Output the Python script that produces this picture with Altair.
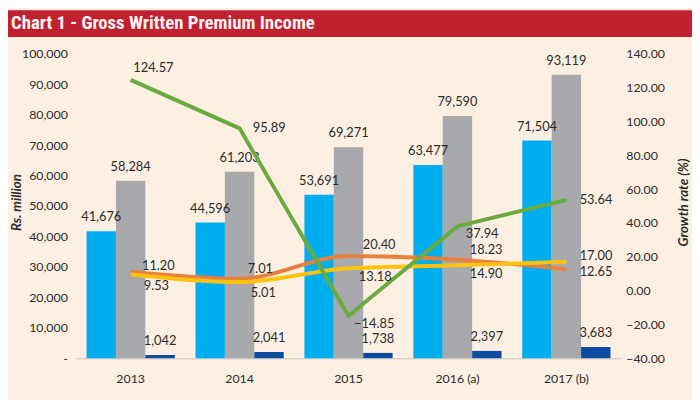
import altair as alt
import pandas as pd

# ---------------- data ----------------
years = ["2013", "2014", "2015", "2016 (a)", "2017 (b)"]

bar_names = ["Series 1", "Series 2", "Series 3"]
series1 = [41676, 44596, 53691, 63477, 71504]
series2 = [58284, 61203, 69271, 79590, 93119]
series3 = [1042, 2041, 1738, 2397, 3683]

line_names = ["Growth 1", "Growth 2", "Growth 3"]
growth_orange = [11.20, 7.01, 20.40, 18.23, 12.65]
growth_yellow = [9.53, 5.01, 13.18, 14.90, 17.00]
growth_green = [124.57, 95.89, -14.85, 37.94, 53.64]

title_text = "Chart 1 - Gross Written Premium Income"
left_ticks = list(range(0, 100001, 10000))
right_ticks = list(range(-40, 141, 20))

# ---------------- tables ----------------
bar_rows = []
for name, vals in zip(bar_names, [series1, series2, series3]):
    for y, v in zip(years, vals):
        bar_rows.append({"year": y, "series": name, "value": v})
bar_df = pd.DataFrame(bar_rows)

line_rows = []
for name, vals in zip(line_names, [growth_orange, growth_yellow, growth_green]):
    for y, v in zip(years, vals):
        line_rows.append({"year": y, "series": name, "growth": v})
line_df = pd.DataFrame(line_rows)

# ---------------- styles ----------------
BG = "#FDF0E2"
RED = "#C1202F"
bar_colors = ["#00AEEF", "#A7A9AC", "#0D4DA1"]
line_colors = {"Growth 1": "#E9803D", "Growth 2": "#FFC20E", "Growth 3": "#6AAB3F"}
TXT = "#2B2B2B"
FONT = "Lato"
LBL = 13

x_enc = alt.X(
    "year:N", sort=years,
    scale=alt.Scale(paddingInner=0.19, paddingOuter=0.095),
    axis=alt.Axis(title=None, labelAngle=0, ticks=False, domain=True,
                  domainColor="#D9D2C8", domainWidth=1.5, labelPadding=15,
                  labelFont=FONT, labelFontSize=12.5, labelColor=TXT),
)
x_line = alt.X("year:N", sort=years, bandPosition=0.5,
               scale=alt.Scale(paddingInner=0.19, paddingOuter=0.095))

xoff = alt.XOffset("series:N", sort=bar_names,
                   scale=alt.Scale(paddingInner=0, paddingOuter=0))

y_left = alt.Y(
    "value:Q",
    scale=alt.Scale(domain=[0, 100000], nice=False, zero=True),
    axis=alt.Axis(values=left_ticks,
                  labelExpr="datum.value == 0 ? '-\u00a0\u00a0' : format(datum.value, ',')",
                  domain=False, ticks=False, grid=False, labelPadding=9,
                  labelFont=FONT, labelFontSize=12.5, labelColor=TXT,
                  title="Rs. million", titleFont=FONT, titleFontSize=13.5,
                  titleFontStyle="italic", titleFontWeight="bold", titleColor=TXT,
                  titleAngle=270, titleX=-60, titleY=150,
                  titleAlign="center", titleBaseline="middle"),
)

y_right = alt.Y(
    "growth:Q",
    scale=alt.Scale(domain=[-40, 140], nice=False, zero=False),
    axis=alt.Axis(orient="right", values=right_ticks, format=".2f",
                  domain=False, ticks=False, grid=False, labelPadding=5,
                  labelFont=FONT, labelFontSize=12.5, labelColor=TXT,
                  title="Growth rate (%)", titleFont=FONT, titleFontSize=13.5,
                  titleFontStyle="italic", titleFontWeight="bold", titleColor=TXT,
                  titleAngle=270, titleX=63, titleY=150,
                  titleAlign="center", titleBaseline="middle"),
)

# ---------------- bars ----------------
bars = alt.Chart(bar_df).mark_bar().encode(
    x=x_enc, xOffset=xoff, y=y_left,
    color=alt.Color("series:N", scale=alt.Scale(domain=bar_names, range=bar_colors),
                    legend=None),
)
bar_labels = alt.Chart(bar_df).mark_text(
    dy=-14, baseline="middle", font=FONT, fontSize=LBL, color=TXT
).encode(x=x_enc, xOffset=xoff, y=y_left, text=alt.Text("value:Q", format=","))

left_layer = alt.layer(bars, bar_labels)

# ---------------- lines ----------------
def line_mark(name, interp):
    return alt.Chart(line_df).transform_filter(
        alt.datum.series == name
    ).mark_line(strokeWidth=4, color=line_colors[name], interpolate=interp,
                strokeCap="butt").encode(x=x_line, y=y_right)

lines = [line_mark("Growth 1", "monotone"),
         line_mark("Growth 2", "monotone"),
         line_mark("Growth 3", "linear")]

# label offsets (dx, dy) per series & year
placements = {
    "Growth 3": [(23, -12), (30, 0), (26, 8), (25, 8), (30, 0)],
    "Growth 1": [(28, -6), (21, -10), (31, -11), (29, -10), (30, 3)],
    "Growth 2": [(26, 12), (24, 11), (27, 9), (29, 9), (30, -6)],
}
line_labels = []
for name, offs in placements.items():
    for yr, (dx, dy) in zip(years, offs):
        line_labels.append(
            alt.Chart(line_df).transform_filter(
                (alt.datum.series == name) & (alt.datum.year == yr)
            ).mark_text(dx=dx, dy=dy, baseline="middle", align="center",
                        font=FONT, fontSize=LBL, color=TXT).encode(
                x=x_line, y=y_right, text=alt.Text("growth:Q", format=".2f"))
        )

right_layer = alt.layer(*lines, *line_labels)

# ---------------- title band ----------------
tdf = pd.DataFrame({"t": [title_text]})
band = alt.Chart(tdf).mark_rect(color=RED).encode(
    x=alt.value(-69), x2=alt.value(623), y=alt.value(-44), y2=alt.value(-17))
title = alt.Chart(tdf).mark_text(
    align="left", baseline="alphabetic",
    font="Roboto Condensed, Liberation Sans Narrow, Arial Narrow, DejaVu Sans Condensed, Roboto, sans-serif",
    fontWeight="bold", fontSize=19, color="#FFF4F4"
).encode(x=alt.value(-66), y=alt.value(-25), text="t:N")

chart = alt.layer(band, title, left_layer, right_layer).resolve_scale(
    y="independent"
).properties(
    width=551, height=308,
    padding={"left": 69, "top": 44, "right": 72, "bottom": 40},
    autosize=alt.AutoSizeParams(type="none"),
    background=BG,
).configure_view(stroke=None)

chart.save("out.html", embed_options={"renderer": "svg", "actions": False})
